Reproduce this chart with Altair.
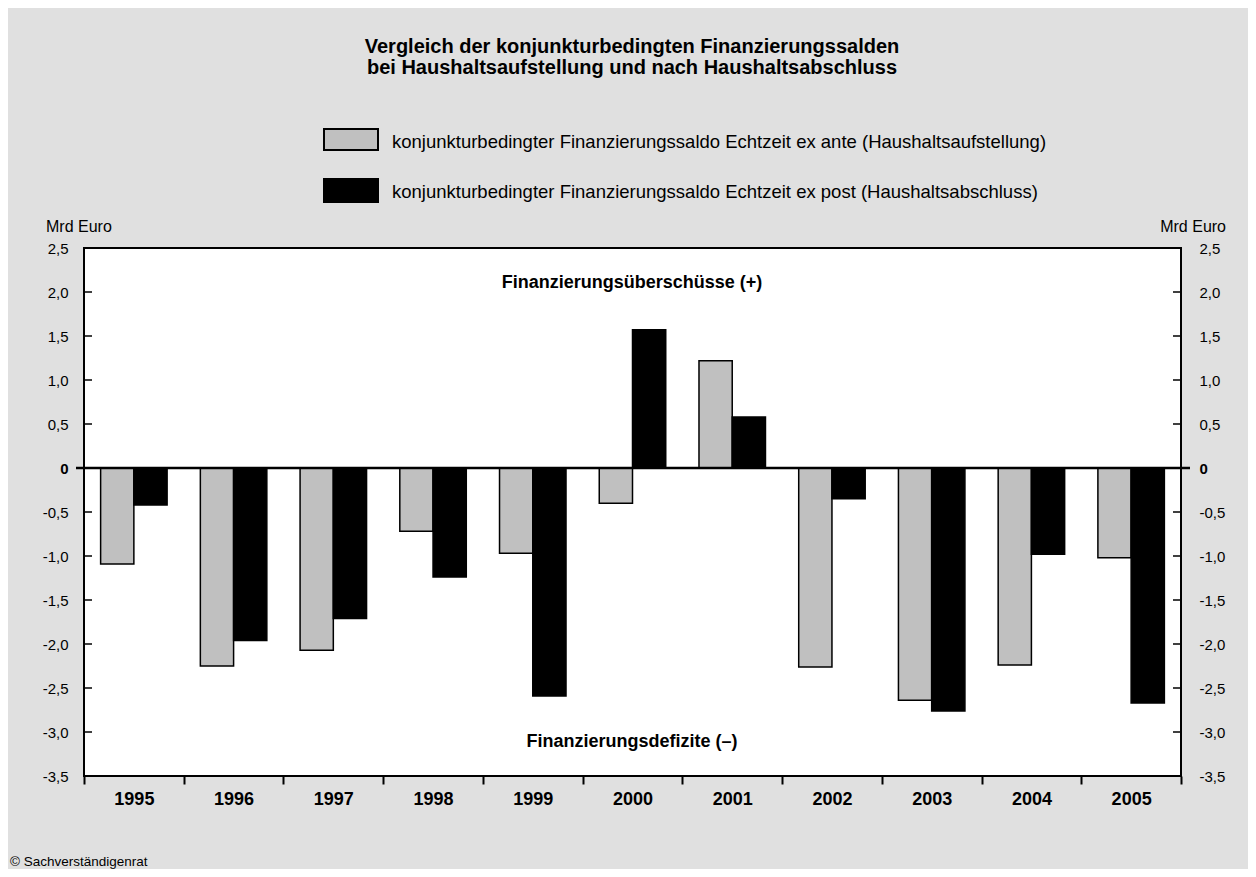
import altair as alt
import pandas as pd

# ---------------- data ----------------
years = ["1995", "1996", "1997", "1998", "1999", "2000", "2001", "2002", "2003", "2004", "2005"]
ex_ante = [-1.09, -2.25, -2.07, -0.72, -0.97, -0.40, 1.22, -2.26, -2.64, -2.24, -1.02]
ex_post = [-0.42, -1.96, -1.71, -1.24, -2.59, 1.57, 0.58, -0.35, -2.76, -0.98, -2.67]
series_names = [
    "konjunkturbedingter Finanzierungssaldo Echtzeit ex ante (Haushaltsaufstellung)",
    "konjunkturbedingter Finanzierungssaldo Echtzeit ex post (Haushaltsabschluss)",
]
series_colors = ["#c0c0c0", "#000000"]
y_ticks = [-3.5, -3.0, -2.5, -2.0, -1.5, -1.0, -0.5, 0.0, 0.5, 1.0, 1.5, 2.0, 2.5]
title_lines = [
    "Vergleich der konjunkturbedingten Finanzierungssalden",
    "bei Haushaltsaufstellung und nach Haushaltsabschluss",
]
unit_label = "Mrd Euro"
note_top = "Finanzierungsüberschüsse (+)"
note_bottom = "Finanzierungsdefizite (–)"
source = "© Sachverständigenrat"

# ---------------- layout ----------------
W, H = 1097, 528
FONT = "Liberation Sans"

rows = []
for i, y in enumerate(years):
    rows.append({"year": y, "series": series_names[0], "value": ex_ante[i]})
    rows.append({"year": y, "series": series_names[1], "value": ex_post[i]})
df = pd.DataFrame(rows)
tick_df = pd.DataFrame({"t": [t for t in y_ticks if t != 0]})
zero_df = pd.DataFrame({"v": [0.0]})
one = pd.DataFrame({"a": [0]})

y_scale = alt.Scale(domain=[-3.5, 2.5], nice=False, zero=False)
label_expr = "datum.value == 0 ? '0' : (datum.value < 0 ? '-' : '') + replace(format(abs(datum.value), '.1f'), '.', ',')"
bold_zero = {"condition": {"test": "datum.value == 0", "value": "bold"}, "value": "normal"}

bars = alt.Chart(df).mark_bar(stroke="black", strokeWidth=1.5).encode(
    x=alt.X("year:N", sort=years,
            scale=alt.Scale(paddingInner=0, paddingOuter=0),
            axis=alt.Axis(title=None, labelAngle=0, labelFont=FONT, labelFontSize=18,
                          labelFontWeight="bold", labelColor="black", labelPadding=6,
                          tickBand="extent", tickSize=8, tickWidth=2, tickColor="black",
                          domain=False)),
    xOffset=alt.XOffset("series:N", sort=series_names,
                        scale=alt.Scale(paddingInner=0, paddingOuter=0.5)),
    y=alt.Y("value:Q", scale=y_scale,
            axis=alt.Axis(orient="left", title=None, values=y_ticks, labelExpr=label_expr,
                          labelFont=FONT, labelFontSize=15, labelColor="black",
                          labelFontWeight=bold_zero, ticks=False, tickSize=0,
                          labelPadding=16, domain=False, grid=False)),
    color=alt.Color("series:N", sort=series_names,
                    scale=alt.Scale(domain=series_names, range=series_colors), legend=None),
)

zero_line = alt.Chart(zero_df).mark_rule(color="black", strokeWidth=2.5).encode(
    y=alt.Y("v:Q", scale=y_scale,
            axis=alt.Axis(orient="right", title=None, values=y_ticks, labelExpr=label_expr,
                          labelFont=FONT, labelFontSize=15, labelColor="black",
                          labelFontWeight=bold_zero, ticks=False, tickSize=0,
                          labelPadding=18, domain=False, grid=False)),
    x=alt.value(-8),
    x2=alt.value(W + 9),
)

ticks_left = alt.Chart(tick_df).mark_rule(color="black", strokeWidth=1.5).encode(
    y=alt.Y("t:Q", scale=y_scale, axis=None), x=alt.value(0), x2=alt.value(8))
ticks_right = alt.Chart(tick_df).mark_rule(color="black", strokeWidth=1.5).encode(
    y=alt.Y("t:Q", scale=y_scale, axis=None), x=alt.value(W - 8), x2=alt.value(W))


def txt(text, x, y, size, weight="normal", align="center", baseline="middle"):
    return alt.Chart(one).mark_text(text=text, font=FONT, fontSize=size, fontWeight=weight,
                                    align=align, baseline=baseline, color="black").encode(
        x=alt.value(x), y=alt.value(y))


def box(x, y, w, h, fill):
    return alt.Chart(one).mark_rect(fill=fill, stroke="black", strokeWidth=2).encode(
        x=alt.value(x), x2=alt.value(x + w), y=alt.value(y), y2=alt.value(y + h))


layers = [
    bars, zero_line, ticks_left, ticks_right,
    txt(title_lines[0], 548, -201, 20, "bold"),
    txt(title_lines[1], 548, -180, 20, "bold"),
    box(240, -119, 54, 21, series_colors[0]),
    box(240, -69, 54, 23, series_colors[1]),
    txt(series_names[0], 308, -106, 18.5, align="left"),
    txt(series_names[1], 308, -56, 18.5, align="left"),
    txt(unit_label, -38, -21, 16, align="left"),
    txt(unit_label, W + 45, -21, 16, align="right"),
    txt(note_top, 548, 35, 18, "bold"),
    txt(note_bottom, 548, 494, 18, "bold"),
    txt(source, -74, 614, 13.5, align="left"),
]

chart = alt.layer(*layers).resolve_axis(y="independent").properties(
    width=W, height=H,
    autosize=alt.AutoSizeParams(type="none"),
    padding={"left": 76, "top": 240, "right": 67, "bottom": 93},
    background="#e0e0e0",
).configure_view(stroke="black", strokeWidth=2, fill="white")

chart.save("out.html", embed_options={"renderer": "svg", "actions": False})
